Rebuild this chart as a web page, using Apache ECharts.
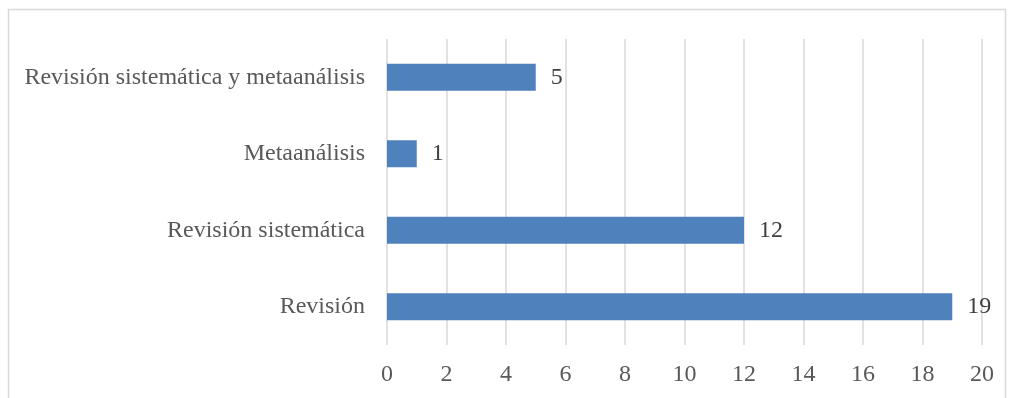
<!DOCTYPE html>
<html>
<head>
<meta charset="utf-8">
<script src="https://cdn.jsdelivr.net/npm/echarts@6/dist/echarts.min.js"></script>
<style>
  html, body { margin: 0; padding: 0; background: #fff; }
  #chart { width: 1009px; height: 398px; }
</style>
</head>
<body>
<div id="chart"></div>
<script>
var categories = ['Revisión', 'Revisión sistemática', 'Metaanálisis', 'Revisión sistemática y metaanálisis'];
var values = [19, 12, 1, 5];
var xTicks = [0, 20, 2]; // min, max, interval

var chart = echarts.init(document.getElementById('chart'));

var option = {
  animation: false,
  textStyle: { fontFamily: 'Liberation Serif' },
  graphic: [{
    type: 'rect',
    shape: { x: 8.5, y: 9.5, width: 997, height: 400 },
    style: { fill: 'none', stroke: '#d9d9d9', lineWidth: 1.5 },
    silent: true
  }],
  grid: { left: 387, right: 27, top: 39, bottom: 53 },
  xAxis: {
    type: 'value',
    min: xTicks[0],
    max: xTicks[1],
    interval: xTicks[2],
    axisLine: { show: false },
    axisTick: { show: false },
    splitLine: { show: true, lineStyle: { color: '#d9d9d9', width: 1.5 } },
    axisLabel: { color: '#595959', fontSize: 24, margin: 18, fontFamily: 'Liberation Serif' }
  },
  yAxis: {
    type: 'category',
    data: categories,
    axisLine: { show: false },
    axisTick: { show: false },
    axisLabel: { color: '#595959', fontSize: 24, margin: 22, fontFamily: 'Liberation Serif' }
  },
  series: [{
    type: 'bar',
    data: values,
    barWidth: 27,
    itemStyle: { color: '#4f81bd' },
    label: {
      show: true,
      position: 'right',
      distance: 15,
      color: '#404040',
      fontSize: 24,
      fontFamily: 'Liberation Serif'
    }
  }]
};

chart.setOption(option);
</script>
</body>
</html>
